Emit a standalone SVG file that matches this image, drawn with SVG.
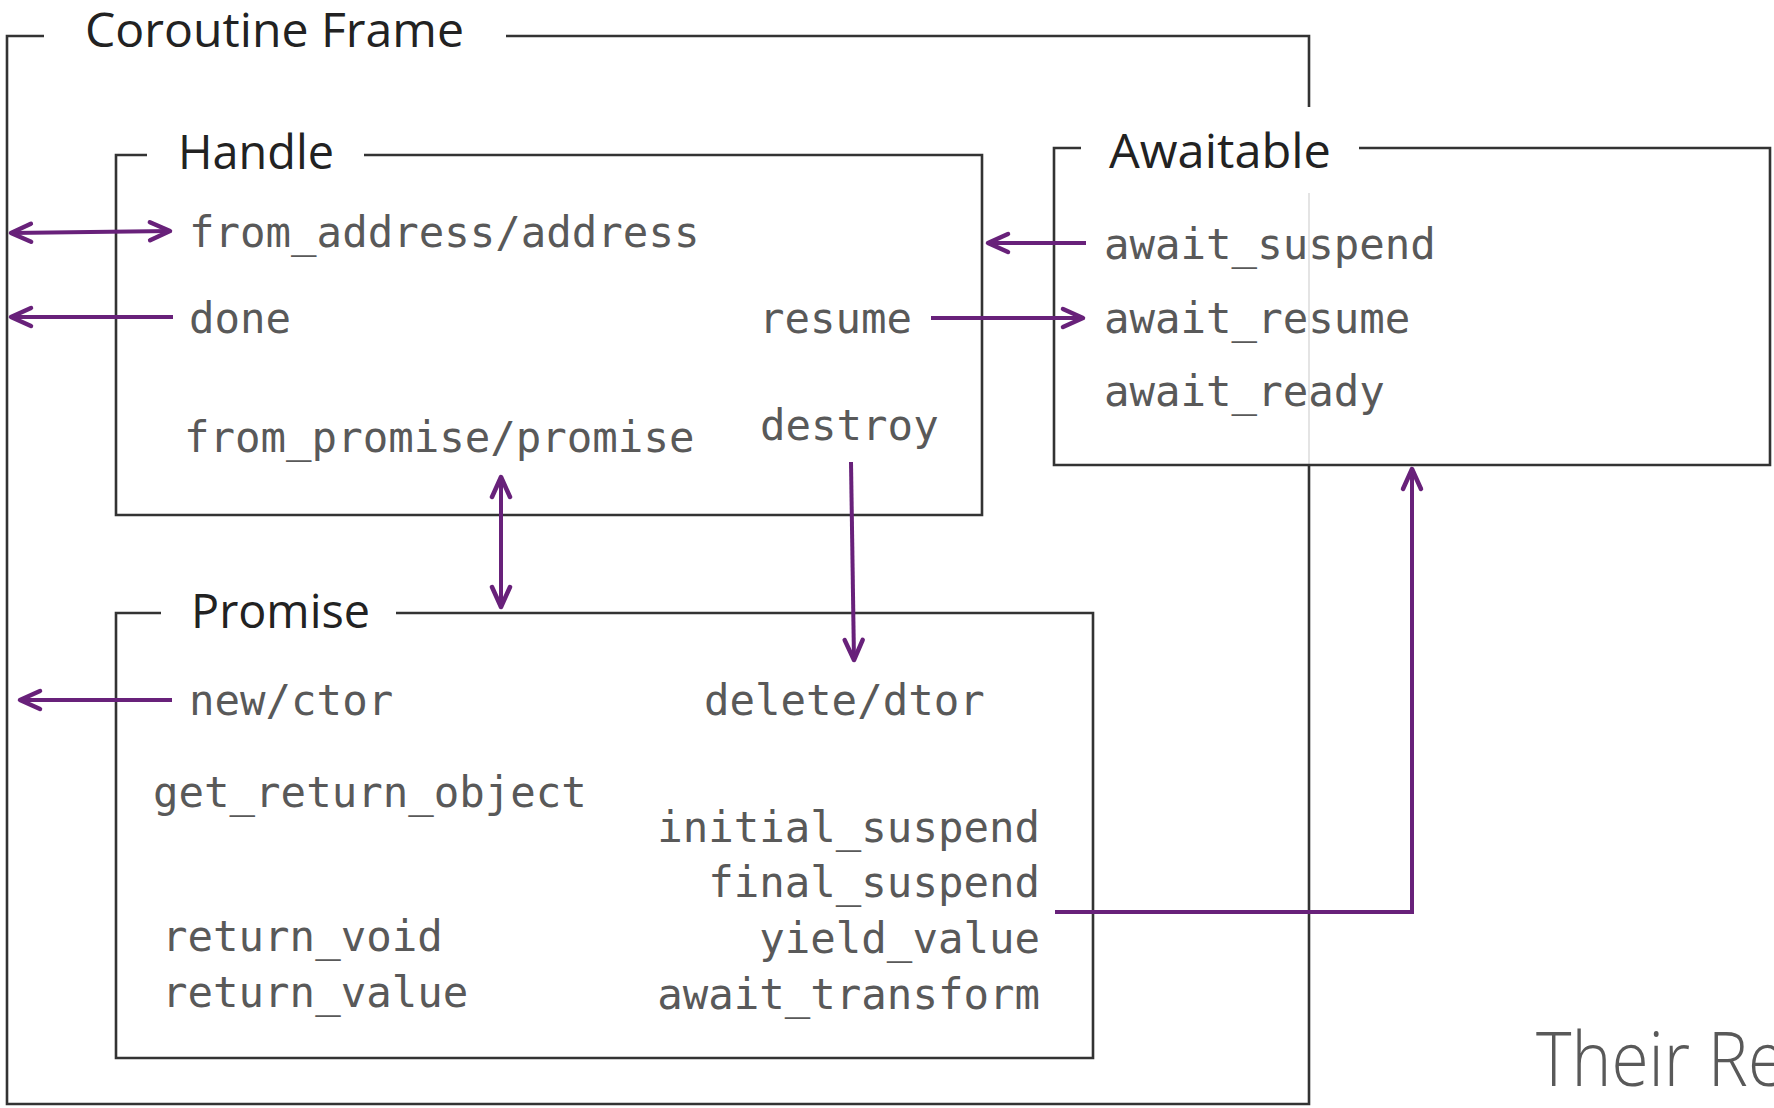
<svg xmlns="http://www.w3.org/2000/svg" width="1774" height="1108" viewBox="0 0 1774 1108">
  <style>
    .frame { fill: none; stroke: #333333; stroke-width: 2.6; }
    .faint { fill: none; stroke: #e4e4e4; stroke-width: 2; }
    .title { font-family: "Open Sans", "Noto Sans", "Liberation Sans", sans-serif; font-size: 47px; fill: #222222; }
    .member { font-family: "DejaVu Sans Mono", "Liberation Mono", monospace; font-size: 42.4px; fill: #595959; }
    .link { fill: none; stroke: #68217a; stroke-width: 4; }
    .caption { font-family: "Open Sans", "Noto Sans", "Liberation Sans", sans-serif; font-weight: 300; font-size: 76px; fill: #595959; }
  </style>
  <defs>
    <marker id="chev" viewBox="-26 -13 30 26" refX="0" refY="0" markerWidth="30" markerHeight="26" markerUnits="userSpaceOnUse" orient="auto-start-reverse">
      <path d="M-20,-9 L0,0 L-20,9" fill="none" stroke="#68217a" stroke-width="4.5" stroke-linecap="round" stroke-linejoin="round"/>
    </marker>
  </defs>
  <rect width="1774" height="1108" fill="#ffffff"/>

  <!-- outer coroutine frame -->
  <g id="coroutine-frame">
    <path class="frame" d="M44,36 L7,36 L7,1104 L1309,1104 L1309,465"/>
    <path class="faint" d="M1309,465 L1309,193"/>
    <path class="frame" d="M1309,107 L1309,36 L506,36"/>
    <text class="title" x="85" y="47" textLength="379" lengthAdjust="spacingAndGlyphs">Coroutine Frame</text>
  </g>

  <!-- handle -->
  <g id="handle">
    <path class="frame" d="M147,155 L116,155 L116,515 L982,515 L982,155 L364,155"/>
    <text class="title" x="178" y="169" textLength="156" lengthAdjust="spacingAndGlyphs">Handle</text>
    <text class="member" x="189" y="247">from_address/address</text>
    <text class="member" x="189" y="333">done</text>
    <text class="member" x="759" y="333">resume</text>
    <text class="member" x="184" y="452">from_promise/promise</text>
    <text class="member" x="760" y="440">destroy</text>
  </g>

  <!-- awaitable -->
  <g id="awaitable">
    <path class="frame" d="M1081,148 L1054,148 L1054,465 L1770,465 L1770,148 L1359,148"/>
    <text class="title" x="1109" y="168" textLength="222" lengthAdjust="spacingAndGlyphs">Awaitable</text>
    <text class="member" x="1104" y="259">await_suspend</text>
    <text class="member" x="1104" y="333">await_resume</text>
    <text class="member" x="1104" y="406">await_ready</text>
  </g>

  <!-- promise -->
  <g id="promise">
    <path class="frame" d="M161,613 L116,613 L116,1058 L1093,1058 L1093,613 L396,613"/>
    <text class="title" x="191" y="628" textLength="179" lengthAdjust="spacingAndGlyphs">Promise</text>
    <text class="member" x="189" y="715">new/ctor</text>
    <text class="member" x="704" y="715">delete/dtor</text>
    <text class="member" x="153" y="807">get_return_object</text>
    <text class="member" x="162" y="951">return_void</text>
    <text class="member" x="162" y="1007">return_value</text>
    <g text-anchor="end">
      <text class="member" x="1040" y="842">initial_suspend</text>
      <text class="member" x="1040" y="897">final_suspend</text>
      <text class="member" x="1040" y="953">yield_value</text>
      <text class="member" x="1040" y="1009">await_transform</text>
    </g>
  </g>

  <!-- connectors -->
  <g id="connectors">
    <path class="link" d="M170,231 L11,233" marker-start="url(#chev)" marker-end="url(#chev)"/>
    <path class="link" d="M173,317 L11,317" marker-end="url(#chev)"/>
    <path class="link" d="M1086,243 L988,243" marker-end="url(#chev)"/>
    <path class="link" d="M931,318 L1083,318" marker-end="url(#chev)"/>
    <path class="link" d="M501,607 L501,477" marker-start="url(#chev)" marker-end="url(#chev)"/>
    <path class="link" d="M851,462 L854,660" marker-end="url(#chev)"/>
    <path class="link" d="M172,700 L20,700" marker-end="url(#chev)"/>
    <path class="link" d="M1055,912 L1412,912 L1412,469" marker-end="url(#chev)"/>
  </g>

  <!-- slide caption, running off the right edge -->
  <g transform="translate(1536,1086) scale(0.89,1)">
    <text class="caption" x="0" y="0">Their Re</text>
  </g>
</svg>
